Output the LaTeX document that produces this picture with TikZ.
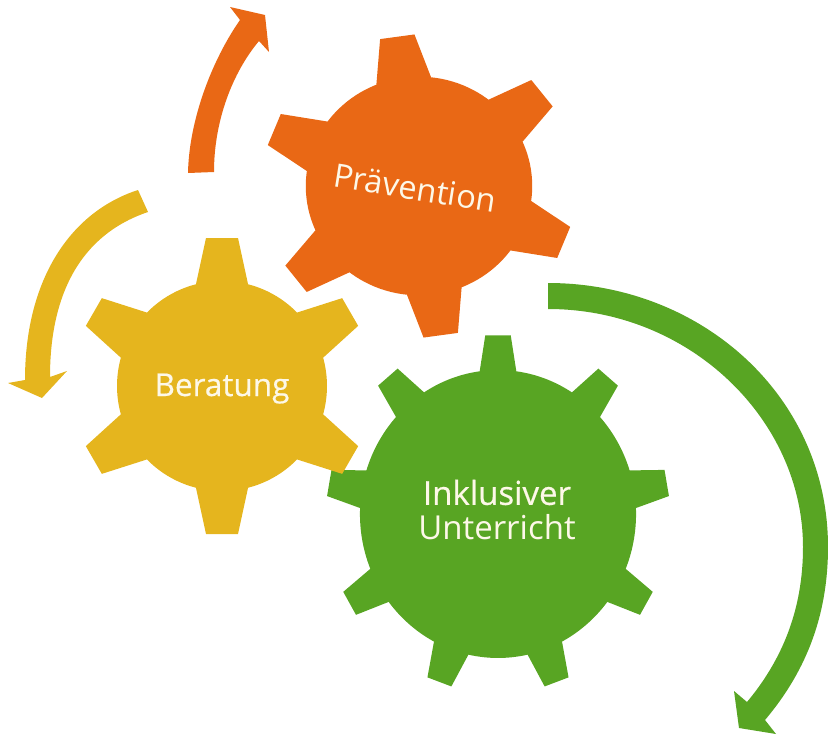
\documentclass[tikz,border=0pt]{standalone}
\usepackage{fontspec}
\setmainfont{Open Sans}
\newfontfamily\heavierfont[FakeBold=0.5]{Open Sans}
\definecolor{gorange}{HTML}{E96815}
\definecolor{gyellow}{HTML}{E5B51E}
\definecolor{ggreen}{HTML}{58A523}
\definecolor{gtext}{HTML}{FDF8E8}
\newcommand{\gearshape}[2]{%
  \begin{scope}[shift={(#1)},#2]
    \fill[gearcol] (0,0) circle[radius=\gR];
    \foreach \k in {1,...,\gN}{
      \pgfmathsetmacro{\ang}{\gA+(\k-1)*360/\gN}
      \fill[gearcol,rotate=\ang] (0,0) -- (\gR-3,-\gB) -- (\gO,-\gT) -- (\gO,\gT) -- (\gR-3,\gB) -- cycle;
    }
  \end{scope}}
\tikzset{
  gearlabel/.style={text=gtext,align=center,inner sep=0pt,font=\fontsize{#1}{35}\selectfont},
  gearlabel/.default=30
}
\begin{document}
\begin{tikzpicture}[x=1pt,y=-1pt]
\useasboundingbox (0,0) rectangle (828,736);
% green gear
\colorlet{gearcol}{ggreen}
\def\gR{141}\def\gO{175}\def\gT{13}\def\gB{19}\def\gN{9}\def\gA{90}
\gearshape{498,514}{xscale=0.979,yscale=1.021}
% yellow gear
\colorlet{gearcol}{gyellow}
\def\gR{105}\def\gO{148}\def\gT{16}\def\gB{26}\def\gN{6}\def\gA{90}
\gearshape{222,386}{}
% orange gear
\colorlet{gearcol}{gorange}
\def\gR{111}\def\gO{153}\def\gT{17}\def\gB{27}\def\gN{6}\def\gA{38}
\gearshape{419,186}{xscale=1.02,yscale=0.985}
% arrows
\fill[gorange] (188,173) .. controls (189,120) and (212,60) .. (240,20)
  -- (230,7) -- (265,15) -- (269,52) -- (259,41)
  .. controls (233,72) and (214,120) .. (214,172) -- cycle;
\fill[gyellow] (138,190) .. controls (70,212) and (25,280) .. (25,380)
  -- (8,383) -- (42,398) -- (67,371) -- (50,377)
  .. controls (50,295) and (80,235) .. (148,212) -- cycle;
\fill[ggreen] (548,283) .. controls (700,283) and (828,395) .. (828,547)
  .. controls (828,620) and (803,675) .. (765,720)
  -- (776,734) -- (739,728) -- (734,691) -- (747,702)
  .. controls (782,660) and (803,610) .. (803,547)
  .. controls (803,420) and (690,309) .. (548,309) -- cycle;
% labels
\node[gearlabel=32.5,rotate=-9] (praevention) at (415,188) {Prävention};
\node[gearlabel=31.5,anchor=base] (beratung) at (222,396) {\heavierfont Beratung};
\node[gearlabel=33] (unterricht) at (497,510) {\heavierfont Inklusiver\\Unterricht};
\end{tikzpicture}
\end{document}
